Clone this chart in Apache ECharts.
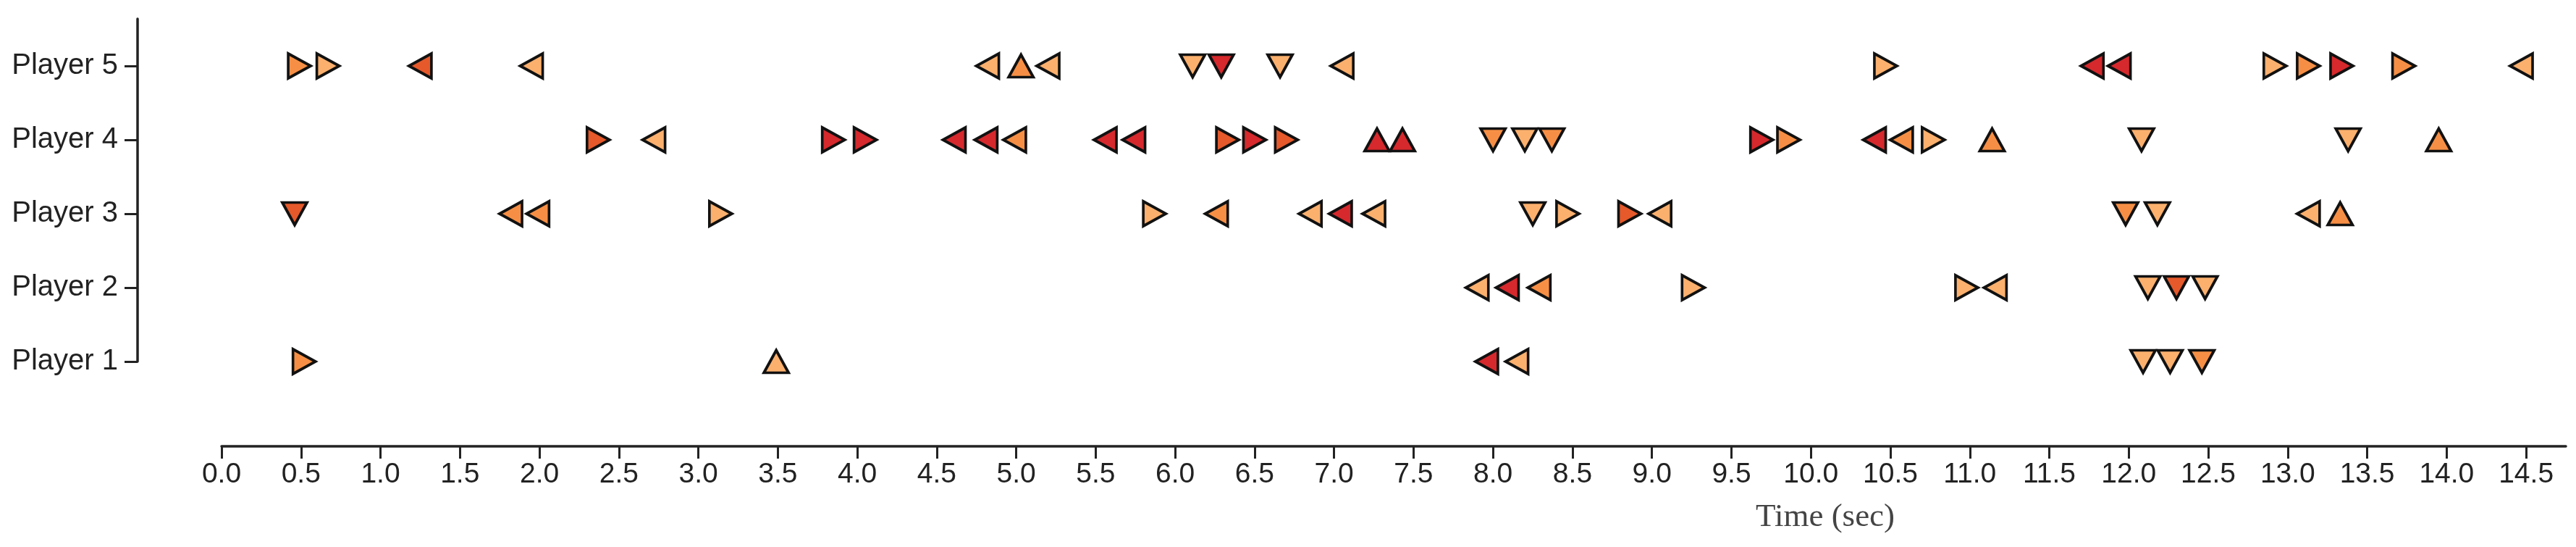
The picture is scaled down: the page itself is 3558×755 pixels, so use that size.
<!DOCTYPE html>
<html>
<head>
<meta charset="utf-8">
<script src="https://cdn.jsdelivr.net/npm/echarts@6/dist/echarts.min.js"></script>
<style>html,body{margin:0;padding:0;background:#fff}#chart{width:3558px;height:755px}</style>
</head>
<body>
<div id="chart"></div>
<script>
// ---- data ----
const players = ['Player 1', 'Player 2', 'Player 3', 'Player 4', 'Player 5'];
const xTicks = [0.0, 0.5, 1.0, 1.5, 2.0, 2.5, 3.0, 3.5, 4.0, 4.5, 5.0, 5.5, 6.0, 6.5, 7.0, 7.5,
  8.0, 8.5, 9.0, 9.5, 10.0, 10.5, 11.0, 11.5, 12.0, 12.5, 13.0, 13.5, 14.0, 14.5];
const yTicks = [1, 2, 3, 4, 5];

// direction: U up, D down, L left, R right ; level: 0 light .. 3 red
const p1Times  = [0.52, 3.49, 7.96, 8.15, 12.09, 12.26, 12.46];
const p1Dirs   = ['R', 'U', 'L', 'L', 'D', 'D', 'D'];
const p1Levels = [1, 0, 3, 0, 0, 0, 1];

const p2Times  = [7.90, 8.09, 8.29, 9.26, 10.98, 11.16, 12.12, 12.30, 12.48];
const p2Dirs   = ['L', 'L', 'L', 'R', 'R', 'L', 'D', 'D', 'D'];
const p2Levels = [0, 3, 1, 0, 0, 0, 0, 2, 0];

const p3Times  = [0.46, 1.82, 1.99, 3.14, 5.87, 6.26, 6.85, 7.04, 7.25, 8.25, 8.47, 8.86, 9.05,
  11.98, 12.18, 13.13, 13.33];
const p3Dirs   = ['D', 'L', 'L', 'R', 'R', 'L', 'L', 'L', 'L', 'D', 'R', 'R', 'L', 'D', 'D', 'L', 'U'];
const p3Levels = [2, 1, 1, 0, 0, 1, 0, 3, 0, 0, 0, 2, 0, 1, 0, 0, 1];

const p4Times  = [2.37, 2.72, 3.85, 4.05, 4.61, 4.81, 4.99, 5.56, 5.74, 6.33, 6.50, 6.70, 7.27, 7.43,
  8.00, 8.20, 8.37, 9.69, 9.86, 10.40, 10.57, 10.77, 11.14, 12.08, 13.38, 13.95];
const p4Dirs   = ['R', 'L', 'R', 'R', 'L', 'L', 'L', 'L', 'L', 'R', 'R', 'R', 'U', 'U',
  'D', 'D', 'D', 'R', 'R', 'L', 'L', 'R', 'U', 'D', 'D', 'U'];
const p4Levels = [2, 0, 3, 3, 3, 3, 1, 3, 3, 2, 3, 2, 3, 3,
  1, 0, 1, 3, 1, 3, 1, 0, 1, 0, 0, 1];

const p5Times  = [0.49, 0.67, 1.25, 1.95, 4.82, 5.03, 5.20, 6.11, 6.29, 6.66, 7.05, 10.47, 11.77,
  11.94, 12.92, 13.13, 13.34, 13.73, 14.47];
const p5Dirs   = ['R', 'R', 'L', 'L', 'L', 'U', 'L', 'D', 'D', 'D', 'L', 'R', 'L',
  'L', 'R', 'R', 'R', 'R', 'L'];
const p5Levels = [1, 0, 2, 0, 0, 1, 0, 0, 3, 0, 0, 0, 3, 3, 0, 1, 3, 1, 0];

// ---- styles ----
const palette = ['#FBB06E', '#F68F45', '#E5592B', '#D6292D'];
const rotation = { U: 0, L: 90, D: 180, R: -90 };

const rows = [
  [p1Times, p1Dirs, p1Levels],
  [p2Times, p2Dirs, p2Levels],
  [p3Times, p3Dirs, p3Levels],
  [p4Times, p4Dirs, p4Levels],
  [p5Times, p5Dirs, p5Levels]
];
const points = [];
rows.forEach(function (r, i) {
  r[0].forEach(function (t, j) {
    points.push({
      value: [t, i + 1],
      symbolRotate: rotation[r[1][j]],
      itemStyle: { color: palette[r[2][j]] }
    });
  });
});

const axisColor = '#222222';
const chart = echarts.init(document.getElementById('chart'), null, { renderer: 'canvas' });
chart.setOption({
  animation: false,
  backgroundColor: '#ffffff',
  title: {
    text: 'Time (sec)',
    left: 2420,
    top: 687,
    textStyle: { fontFamily: 'Liberation Serif', fontSize: 45, fontWeight: 'normal', color: '#444444' }
  },
  grid: { left: 306, right: 14, top: 26, bottom: 256, containLabel: false },
  xAxis: {
    type: 'value',
    min: 0,
    max: 14.75,
    position: 'bottom',
    offset: 117,
    axisLine: { show: true, onZero: false, lineStyle: { color: axisColor, width: 3.5 } },
    axisTick: { show: true, length: 17, customValues: xTicks, lineStyle: { color: axisColor, width: 3 } },
    axisLabel: {
      customValues: xTicks,
      formatter: function (v) { return Number(v).toFixed(1); },
      fontFamily: 'Liberation Sans', fontSize: 39, color: axisColor, margin: 20
    },
    splitLine: { show: false }
  },
  yAxis: {
    type: 'value',
    min: 1,
    max: 5.637,
    position: 'left',
    offset: 116,
    axisLine: { show: true, onZero: false, lineStyle: { color: axisColor, width: 3.5 } },
    axisTick: { show: true, length: 18, customValues: yTicks, lineStyle: { color: axisColor, width: 3 } },
    axisLabel: {
      customValues: yTicks,
      formatter: function (v) { return players[Math.round(v) - 1]; },
      fontFamily: 'Liberation Sans', fontSize: 40, color: axisColor, margin: 27
    },
    splitLine: { show: false }
  },
  series: [{
    type: 'scatter',
    symbol: 'triangle',
    symbolSize: [34, 31],
    clip: false,
    itemStyle: { borderColor: '#111111', borderWidth: 3.8, opacity: 1 },
    emphasis: { disabled: true },
    data: points
  }]
});
</script>
</body>
</html>
